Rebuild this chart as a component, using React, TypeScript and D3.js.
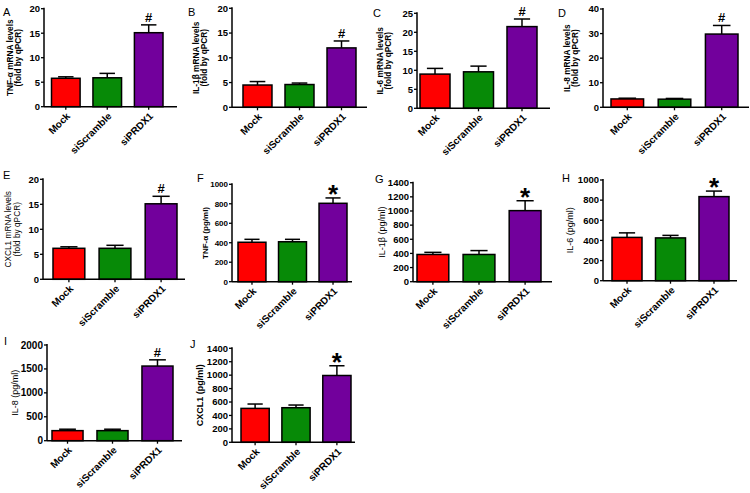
import * as d3 from "d3";

// groups and bar fills shared by every panel
const GROUPS = ["Mock", "siScramble", "siPRDX1"];
const FILLS = ["#ff0000", "#078a07", "#72009c"];

// mRNA (fold by qPCR): means and SEM
const TNF_MRNA = [5.8, 5.9, 15.1];
const TNF_MRNA_ERR = [0.3, 0.9, 1.6];
const IL1B_MRNA = [4.5, 4.6, 12.0];
const IL1B_MRNA_ERR = [0.7, 0.3, 1.4];
const IL6_MRNA = [9.0, 9.6, 21.5];
const IL6_MRNA_ERR = [1.5, 1.5, 2.0];
const IL8_MRNA = [3.4, 3.3, 29.8];
const IL8_MRNA_ERR = [0.3, 0.3, 3.5];
const CXCL1_MRNA = [6.2, 6.2, 15.1];
const CXCL1_MRNA_ERR = [0.3, 0.6, 1.5];

// protein (pg/ml)
const TNF_PG = [405, 410, 805];
const TNF_PG_ERR = [30, 25, 55];
const IL1B_PG = [385, 385, 1005];
const IL1B_PG_ERR = [30, 55, 140];
const IL6_PG = [430, 425, 835];
const IL6_PG_ERR = [45, 25, 55];
const IL8_PG = [210, 210, 1560];
const IL8_PG_ERR = [30, 30, 130];
const CXCL1_PG = [505, 515, 995];
const CXCL1_PG_ERR = [65, 40, 145];

// y tick values
const T20 = [0, 5, 10, 15, 20];
const T25 = [0, 5, 10, 15, 20, 25];
const T40 = [0, 10, 20, 30, 40];
const T1000 = [0, 200, 400, 600, 800, 1000];
const T1400 = [0, 200, 400, 600, 800, 1000, 1200, 1400];
const T2000 = [0, 500, 1000, 1500, 2000];

interface PanelCfg {
  tag: string; tagX: number; tagY: number;
  title: string[]; titleX: number[]; titleBold: boolean; titleFs: number;
  mean: number[]; err: number[]; ticks: number[]; sig: string;
  ax: number; axEnd: number; top: number; bottom: number; band: [number, number];
  tickFs: number;
}

const PANELS: PanelCfg[] = [
  { tag: "A", tagX: 3, tagY: 16, title: ["TNF-\u03b1 mRNA levels", "(fold by qPCR)"], titleX: [10, 18.5], titleBold: true, titleFs: 8.3,
    mean: TNF_MRNA, err: TNF_MRNA_ERR, ticks: T20, sig: "#", ax: 44, axEnd: 177, top: 8.7, bottom: 106.7, band: [51.5, 163], tickFs: 9.5 },
  { tag: "B", tagX: 188, tagY: 16, title: ["IL-1\u03b2 mRNA levels", "(fold by qPCR)"], titleX: [196, 204.5], titleBold: true, titleFs: 8.3,
    mean: IL1B_MRNA, err: IL1B_MRNA_ERR, ticks: T20, sig: "#", ax: 232, axEnd: 367, top: 8.3, bottom: 107.3, band: [243, 356], tickFs: 9.5 },
  { tag: "C", tagX: 373, tagY: 17, title: ["IL-6 mRNA levels", "(fold by qPCR)"], titleX: [380, 388], titleBold: true, titleFs: 8.3,
    mean: IL6_MRNA, err: IL6_MRNA_ERR, ticks: T25, sig: "#", ax: 417, axEnd: 550, top: 13.3, bottom: 108.3, band: [420, 537], tickFs: 9.5 },
  { tag: "D", tagX: 558, tagY: 17, title: ["IL-8 mRNA levels", "(fold by qPCR)"], titleX: [567, 575], titleBold: true, titleFs: 8.3,
    mean: IL8_MRNA, err: IL8_MRNA_ERR, ticks: T40, sig: "#", ax: 603, axEnd: 749, top: 9, bottom: 107.3, band: [611, 738], tickFs: 9.5 },
  { tag: "E", tagX: 3, tagY: 179, title: ["CXCL1 mRNA levels", "(fold by qPCR)"], titleX: [8.5, 17], titleBold: false, titleFs: 8.3,
    mean: CXCL1_MRNA, err: CXCL1_MRNA_ERR, ticks: T20, sig: "#", ax: 43, axEnd: 185, top: 179.3, bottom: 279.3, band: [53, 177], tickFs: 9.5 },
  { tag: "F", tagX: 197, tagY: 182, title: ["TNF-\u03b1 (pg/ml)"], titleX: [205], titleBold: true, titleFs: 8,
    mean: TNF_PG, err: TNF_PG_ERR, ticks: T1000, sig: "*", ax: 232, axEnd: 352, top: 184.3, bottom: 281.7, band: [238, 347], tickFs: 8 },
  { tag: "G", tagX: 375, tagY: 183, title: ["IL-1\u03b2 (pg/ml)"], titleX: [382], titleBold: false, titleFs: 9,
    mean: IL1B_PG, err: IL1B_PG_ERR, ticks: T1400, sig: "*", ax: 413, axEnd: 552, top: 182.7, bottom: 281.7, band: [417, 541], tickFs: 9.5 },
  { tag: "H", tagX: 562, tagY: 182, title: ["IL-6 (pg/ml)"], titleX: [570], titleBold: false, titleFs: 9,
    mean: IL6_PG, err: IL6_PG_ERR, ticks: T1000, sig: "*", ax: 603, axEnd: 737, top: 180, bottom: 280.7, band: [612, 729], tickFs: 9.5 },
  { tag: "I", tagX: 4, tagY: 345, title: ["IL-8 (pg/ml)"], titleX: [15], titleBold: false, titleFs: 9,
    mean: IL8_PG, err: IL8_PG_ERR, ticks: T2000, sig: "#", ax: 47, axEnd: 182, top: 345, bottom: 440.7, band: [52, 173], tickFs: 10 },
  { tag: "J", tagX: 190, tagY: 348, title: ["CXCL1 (pg/ml)"], titleX: [200], titleBold: true, titleFs: 9,
    mean: CXCL1_PG, err: CXCL1_PG_ERR, ticks: T1400, sig: "*", ax: 232, axEnd: 355, top: 348.3, bottom: 442.3, band: [241, 351], tickFs: 9.5 },
];

const FONT = "'Liberation Sans', Arial, Helvetica, sans-serif";

function BarPanel({ p }: { p: PanelCfg }) {
  const x = d3.scaleBand<string>().domain(GROUPS).range(p.band).paddingInner(0.31).paddingOuter(0);
  const y = d3.scaleLinear().domain([0, p.ticks[p.ticks.length - 1]]).range([p.bottom, p.top]);
  const bw = x.bandwidth();
  const yc = (p.top + p.bottom) / 2;
  const last = GROUPS.length - 1;
  const cx = (x(GROUPS[last]) ?? 0) + bw / 2;
  const capY = y(p.mean[last] + p.err[last]);
  return (
    <g fontFamily={FONT}>
      <text x={p.tagX} y={p.tagY} fontSize={11}>{p.tag}</text>
      {p.title.map((t, i) => (
        <text key={t} transform={`translate(${p.titleX[i]},${yc}) rotate(-90)`} textAnchor="middle" dy="0.35em"
          fontSize={p.titleFs} fontWeight={p.titleBold ? "bold" : "normal"}>{t}</text>
      ))}
      {GROUPS.map((g, i) => {
        const x0 = x(g) ?? 0;
        const c = x0 + bw / 2;
        const yt = y(p.mean[i]);
        const ye = y(p.mean[i] + p.err[i]);
        return (
          <g key={g}>
            <line x1={c} x2={c} y1={yt} y2={ye} stroke="#000" strokeWidth={1.5} />
            <line x1={c - bw * 0.27} x2={c + bw * 0.27} y1={ye} y2={ye} stroke="#000" strokeWidth={1.5} />
            <rect x={x0} y={yt} width={bw} height={p.bottom - yt} fill={FILLS[i]} stroke="#000" strokeWidth={1.5} />
            <line x1={c} x2={c} y1={p.bottom} y2={p.bottom + 3} stroke="#000" strokeWidth={1.3} />
            <text transform={`translate(${c + 5},${p.bottom + 10}) rotate(-45)`} textAnchor="end" fontSize={10} fontWeight="bold">{g}</text>
          </g>
        );
      })}
      <line x1={p.ax} x2={p.ax} y1={p.top - 1} y2={p.bottom} stroke="#000" strokeWidth={1.5} />
      <line x1={p.ax} x2={p.axEnd} y1={p.bottom} y2={p.bottom} stroke="#000" strokeWidth={1.5} />
      {p.ticks.map(t => (
        <g key={t}>
          <line x1={p.ax - 3} x2={p.ax} y1={y(t)} y2={y(t)} stroke="#000" strokeWidth={1.3} />
          <text x={p.ax - 4} y={y(t)} dy="0.35em" textAnchor="end" fontSize={p.tickFs} fontWeight="bold">{t}</text>
        </g>
      ))}
      {p.sig === "#" ? (
        <text x={cx} y={capY - 3} textAnchor="middle" fontSize={13} fontWeight="bold">#</text>
      ) : (
        <text x={cx} y={capY + 5} textAnchor="middle" fontSize={26} fontWeight="bold">*</text>
      )}
    </g>
  );
}

export default function App() {
  return (
    <svg width={750} height={493} style={{ position: "absolute", left: 0, top: 0, background: "#fff" }}>
      {PANELS.map(p => <BarPanel key={p.tag} p={p} />)}
    </svg>
  );
}
